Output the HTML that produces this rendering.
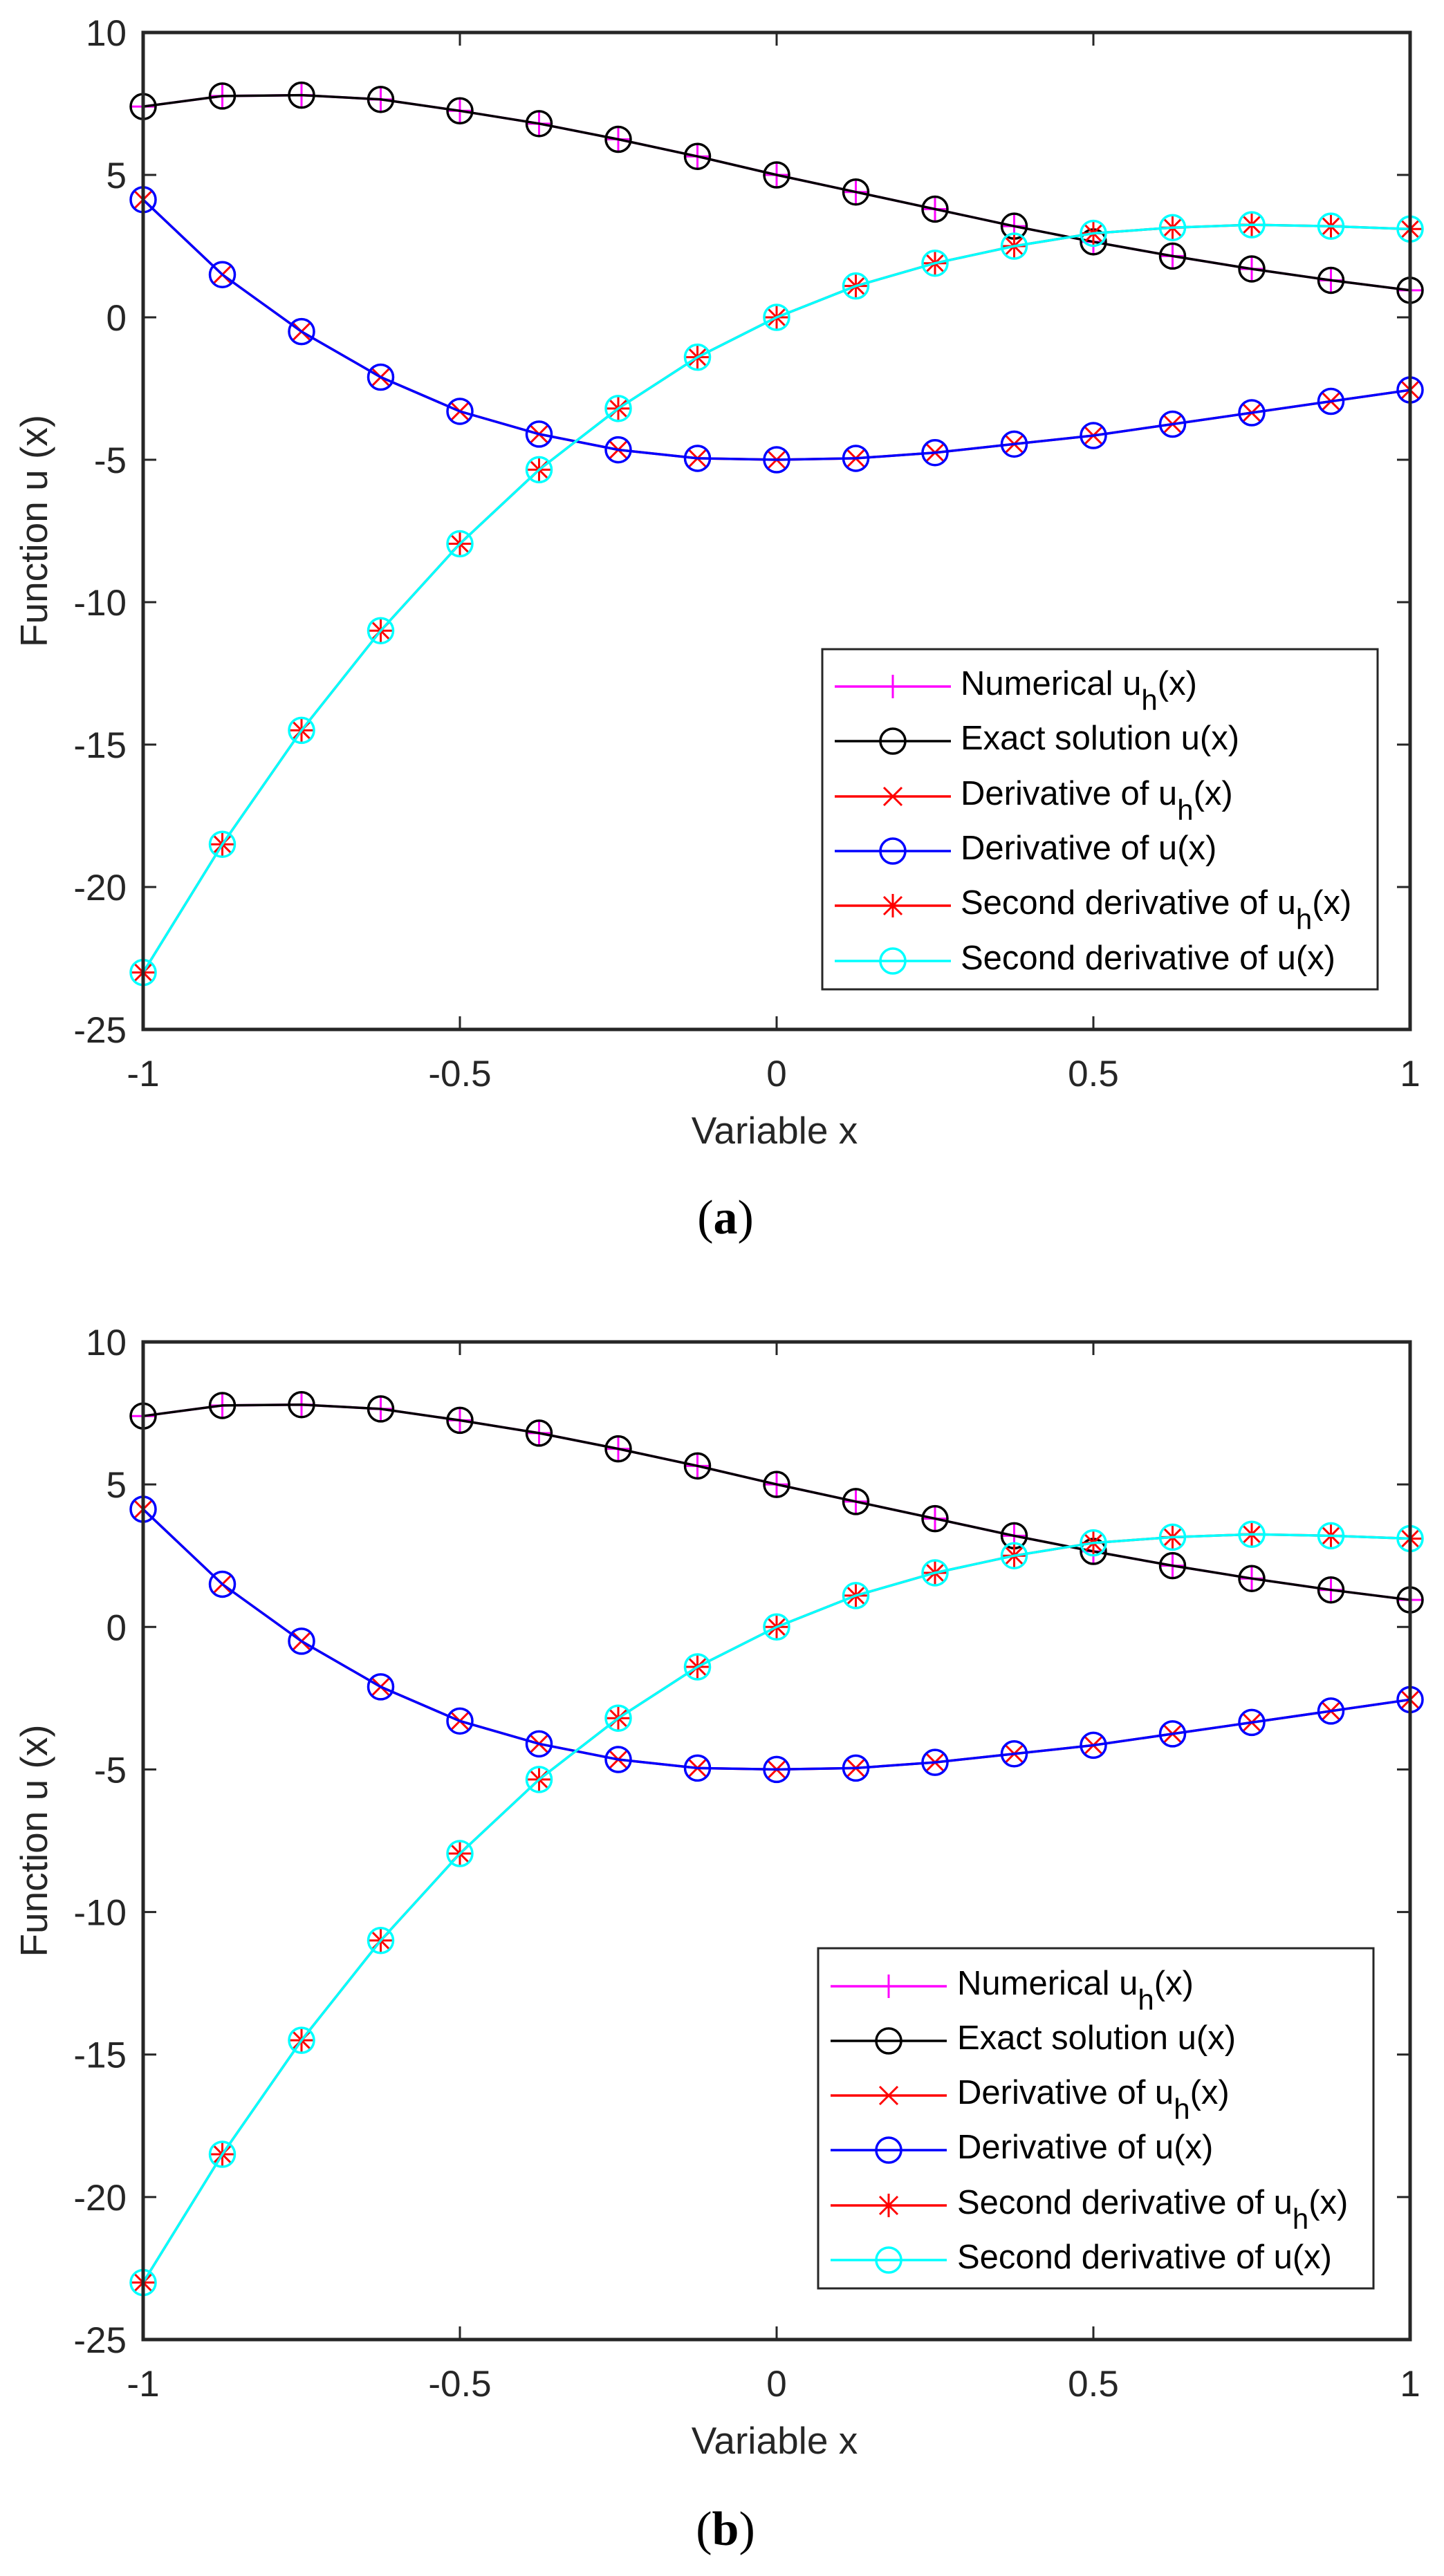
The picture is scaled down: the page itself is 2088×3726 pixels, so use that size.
<!DOCTYPE html>
<html><head><meta charset="utf-8">
<style>
html,body{margin:0;padding:0;background:#fff;}
svg{display:block;}
text{font-family:"Liberation Sans",Arial,sans-serif;fill:#262626;}
text.cap{font-family:"Liberation Serif","Times New Roman",serif;fill:#000;}
</style></head>
<body>
<svg id="chart" width="2088" height="3726" viewBox="0 0 2088 3726" xmlns="http://www.w3.org/2000/svg"></svg>
<script>
const xValues = [-1,-0.875,-0.75,-0.625,-0.5,-0.375,-0.25,-0.125,0,0.125,0.25,0.375,0.5,0.625,0.75,0.875,1];
const exactU = [7.4,7.77,7.8,7.65,7.25,6.8,6.25,5.65,5.0,4.4,3.8,3.2,2.65,2.15,1.7,1.3,0.95];
const derivU = [4.13,1.5,-0.5,-2.1,-3.3,-4.1,-4.65,-4.95,-5.0,-4.95,-4.75,-4.45,-4.15,-3.75,-3.35,-2.95,-2.55];
const secondU = [-23,-18.5,-14.5,-11,-7.95,-5.35,-3.2,-1.4,0,1.1,1.9,2.5,2.95,3.15,3.25,3.2,3.1];
const xTicks = [-1,-0.5,0,0.5,1];
const xTickLabels = ["-1","-0.5","0","0.5","1"];
const yTicks = [10,5,0,-5,-10,-15,-20,-25];
const yTickLabels = ["10","5","0","-5","-10","-15","-20","-25"];
const legendLabels = ["Numerical u|h|(x)","Exact solution u(x)","Derivative of u|h|(x)","Derivative of u(x)","Second derivative of u|h|(x)","Second derivative of u(x)"];

const NS="http://www.w3.org/2000/svg";
const svg=document.getElementById('chart');
function mk(tag,attrs,parent){const e=document.createElementNS(NS,tag);for(const k in attrs)e.setAttribute(k,attrs[k]);(parent||svg).appendChild(e);return e;}

const panels=[
 {name:'a',top:47,bottom:1489,left:207,right:2039,leg:{l:1189,t:939,r:1992,b:1431,rows:[993,1072,1152,1231,1310,1390],lx1:1207,lx2:1375,mx:1291,tx:1389},xl:1634,cap:1762,capText:'a'},
 {name:'b',top:1941,bottom:3384,left:207,right:2039,leg:{l:1183,t:2818,r:1986,b:3310,rows:[2873,2952,3031,3110,3190,3269],lx1:1201,lx2:1369,mx:1285,tx:1384},xl:3529,cap:3659,capText:'b'}
];

function marker(g,type,cx,cy,color){
  const r=18,s=17;
  if(type==='plus'){
    mk('path',{d:`M${cx-s} ${cy}H${cx+s}M${cx} ${cy-s}V${cy+s}`,stroke:color,'stroke-width':3,fill:'none'},g);
  }else if(type==='circle'){
    mk('circle',{cx:cx,cy:cy,r:r,stroke:color,'stroke-width':3.5,fill:'none'},g);
  }else if(type==='x'){
    const d=13;
    mk('path',{d:`M${cx-d} ${cy-d}L${cx+d} ${cy+d}M${cx-d} ${cy+d}L${cx+d} ${cy-d}`,stroke:color,'stroke-width':3,fill:'none'},g);
  }else if(type==='star'){
    const d=13;
    mk('path',{d:`M${cx-s} ${cy}H${cx+s}M${cx} ${cy-s}V${cy+s}M${cx-d} ${cy-d}L${cx+d} ${cy+d}M${cx-d} ${cy+d}L${cx+d} ${cy-d}`,stroke:color,'stroke-width':3,fill:'none'},g);
  }
}

const series=[
 {key:'numerical',data:exactU,color:'#ff00ff',m:'plus'},
 {key:'exact',data:exactU,color:'#000000',m:'circle'},
 {key:'deriv-numerical',data:derivU,color:'#ff0000',m:'x'},
 {key:'deriv-exact',data:derivU,color:'#0000ff',m:'circle'},
 {key:'second-numerical',data:secondU,color:'#ff0000',m:'star'},
 {key:'second-exact',data:secondU,color:'#00ffff',m:'circle'}
];

panels.forEach(p=>{
  const X=v=>p.left+(v+1)/2*(p.right-p.left);
  const Y=v=>p.top+(10-v)/35*(p.bottom-p.top);
  const g=mk('g',{});
  
  
  series.forEach(s=>{
    const sg=mk('g',{},g);
    
    
    const pts=xValues.map((x,i)=>X(x).toFixed(1)+','+Y(s.data[i]).toFixed(1)).join(' ');
    mk('polyline',{points:pts,fill:'none',stroke:s.color,'stroke-width':3.5},sg);
    xValues.forEach((x,i)=>marker(sg,s.m,X(x),Y(s.data[i]),s.color));
  });
  const ax=mk('rect',{x:p.left,y:p.top,width:p.right-p.left,height:p.bottom-p.top,fill:'none',stroke:'#262626','stroke-width':5},g);
  
  
  xTicks.forEach((t,i)=>{
    const x=X(t);
    mk('path',{d:`M${x} ${p.bottom}V${p.bottom-19}M${x} ${p.top}V${p.top+19}`,stroke:'#262626','stroke-width':3},g);
    const tx=mk('text',{x:x,y:p.bottom+82,'font-size':53,'text-anchor':'middle'},g);
    tx.textContent=xTickLabels[i];
    
    
  });
  yTicks.forEach((t,i)=>{
    const y=Y(t);
    mk('path',{d:`M${p.left} ${y}H${p.left+19}M${p.right} ${y}H${p.right-19}`,stroke:'#262626','stroke-width':3},g);
    const ty=mk('text',{x:p.left-24,y:y+19,'font-size':53,'text-anchor':'end'},g);
    ty.textContent=yTickLabels[i];
    
    
  });
  const xl=mk('text',{x:1120,y:p.xl+20,'font-size':55,'text-anchor':'middle'},g);
  xl.textContent='Variable x';
  
  
  const cy=(p.top+p.bottom)/2;
  const yl=mk('text',{x:0,y:0,'font-size':55,'text-anchor':'middle',transform:`translate(68 ${cy}) rotate(-90)`},g);
  yl.textContent='Function u (x)';
  
  
  const cap=mk('text',{x:1049,y:p.cap+22,'font-size':70,'text-anchor':'middle','class':'cap'},g);
  cap.innerHTML='(<tspan font-weight="bold">'+p.capText+'</tspan>)';
  
  
  const L=p.leg;
  const lg=mk('g',{},g);
  
  
  mk('rect',{x:L.l,y:L.t,width:L.r-L.l,height:L.b-L.t,fill:'#fff',stroke:'#262626','stroke-width':3},lg);
  series.forEach((s,i)=>{
    const eg=mk('g',{},lg);
    
    
    const y=L.rows[i];
    mk('line',{x1:L.lx1,x2:L.lx2,y1:y,y2:y,stroke:s.color,'stroke-width':3.5},eg);
    marker(eg,s.m,L.mx,y,s.color);
    const t=mk('text',{x:L.tx,y:y+12,'font-size':49},eg);
    const parts=legendLabels[i].split('|');
    let html=parts[0];
    if(parts.length>1){html+='<tspan dy="22" font-size="42">'+parts[1]+'</tspan><tspan dy="-22">'+parts[2]+'</tspan>';}
    t.innerHTML=html;
    t.style.fill='#000';
  });
});
</script>
</body></html>
